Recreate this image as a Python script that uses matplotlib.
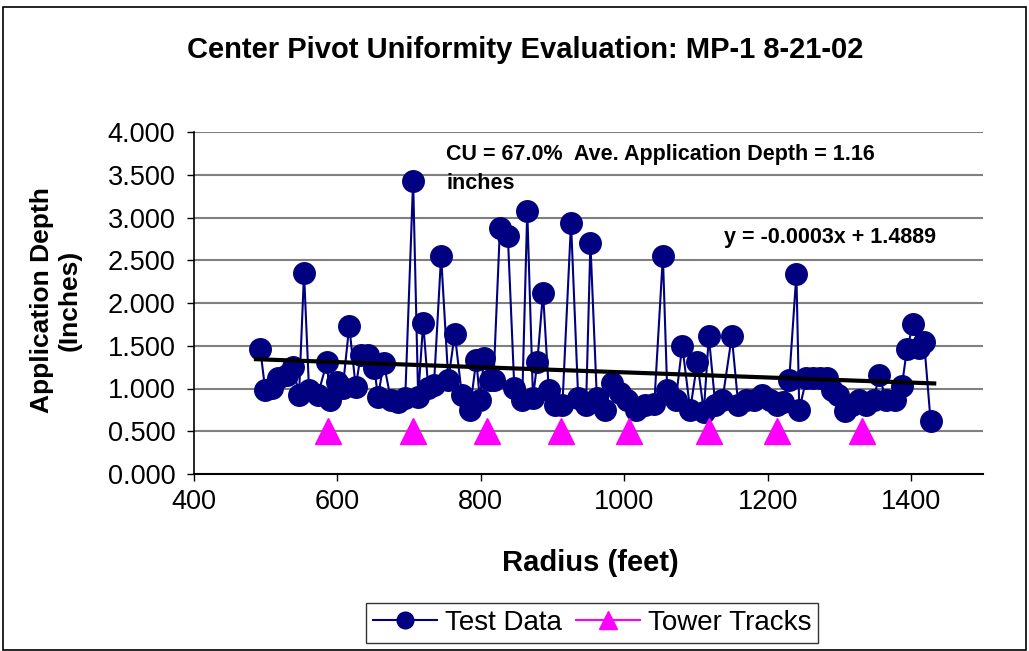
import matplotlib
matplotlib.use("Agg")
import matplotlib.pyplot as plt
from matplotlib.lines import Line2D
from matplotlib.patches import Rectangle

plt.rcParams['font.family'] = ['Liberation Sans', 'DejaVu Sans']

radius = [493, 500, 509, 518, 530, 539, 547, 554, 561, 573, 586, 590, 600, 608,
          617, 626, 633, 643, 652, 657, 665, 675, 685, 695, 706, 713, 720, 727,
          735, 745, 755, 764, 774, 785, 794, 799, 805, 813, 818, 827, 838, 847,
          858, 865, 873, 879, 887, 895, 904, 914, 926, 936, 947, 953, 962, 973,
          983, 994, 1004, 1017, 1029, 1042, 1054, 1060, 1072, 1081, 1092, 1102,
          1111, 1118, 1127, 1137, 1150, 1159, 1170, 1181, 1192, 1203, 1213, 1222,
          1230, 1240, 1244, 1254, 1263, 1273, 1282, 1290, 1298, 1308, 1318, 1327,
          1337, 1348, 1355, 1365, 1378, 1387, 1394, 1403, 1411, 1418, 1427]
depth = [1.46, 0.98, 1.01, 1.12, 1.16, 1.25, 0.92, 2.35, 0.98, 0.92, 1.31, 0.87, 1.08, 1.01,
         1.73, 1.02, 1.39, 1.39, 1.24, 0.90, 1.30, 0.87, 0.84, 0.89, 3.43, 0.90, 1.77, 1.01,
         1.04, 2.55, 1.10, 1.64, 0.92, 0.75, 1.33, 0.87, 1.36, 1.10, 1.10, 2.88, 2.78, 1.01,
         0.87, 3.08, 0.89, 1.31, 2.12, 0.98, 0.81, 0.81, 2.94, 0.89, 0.81, 2.70, 0.89, 0.75,
         1.06, 0.95, 0.87, 0.75, 0.81, 0.82, 2.55, 0.98, 0.87, 1.50, 0.75, 1.31,
         0.73, 1.61, 0.81, 0.87, 1.61, 0.81, 0.87, 0.87, 0.92, 0.87, 0.81, 0.84,
         1.10, 2.34, 0.75, 1.12, 1.12, 1.12, 1.12, 0.98, 0.92, 0.74, 0.81, 0.87,
         0.81, 0.87, 1.16, 0.87, 0.87, 1.03, 1.46, 1.76, 1.47, 1.54, 0.62]

tower_radius = [588, 706, 809, 912, 1007, 1118, 1213, 1332]
tower_depth = [0.5, 0.5, 0.5, 0.5, 0.5, 0.5, 0.5, 0.5]

trend_slope = -0.0003
trend_intercept = 1.4889
trend_range = [487, 1432]

title = "Center Pivot Uniformity Evaluation: MP-1 8-21-02"
xlabel = "Radius (feet)"
ylabel = "Application Depth\n(Inches)"
cu_text = "CU = 67.0%  Ave. Application Depth = 1.16\ninches"
eq_text = "y = -0.0003x + 1.4889"
yticks = [0, 0.5, 1.0, 1.5, 2.0, 2.5, 3.0, 3.5, 4.0]
xticks = [400, 600, 800, 1000, 1200, 1400]

W, H = 1029, 651
fig = plt.figure(figsize=(W / 100, H / 100), dpi=100)
fig.patch.set_facecolor('white')
fig.add_artist(Rectangle((3 / W, 1 / H), (W - 6) / W, (H - 8) / H, transform=fig.transFigure,
                         fill=False, edgecolor='black', linewidth=1.2))

left, right, top, bottom = 193.5, 983, 132, 474
ax = fig.add_axes([left / W, 1 - bottom / H, (right - left) / W, (bottom - top) / H])
ax.set_xlim(400, 1500)
ax.set_ylim(0, 4)

for yv in yticks[1:]:
    ax.axhline(yv, color='#808080', linewidth=1.5, zorder=0)

navy = '#000080'
ax.plot(radius, depth, color=navy, linewidth=1.5, marker='o', markersize=15.5,
        markerfacecolor=navy, markeredgecolor=navy, zorder=3)
ax.plot(tower_radius, tower_depth, linestyle='none', marker='^', markersize=19,
        color='#FF00FF', markeredgecolor='#FF00FF', zorder=4)
tx = trend_range
ty = [trend_slope * v + trend_intercept for v in tx]
ax.plot(tx, ty, color='black', linewidth=3, zorder=5)

ax.set_xticks(xticks)
ax.set_yticks(yticks)
ax.set_yticklabels([f"{v:.3f}" for v in yticks])
ax.tick_params(axis='both', labelsize=19.5, direction='out', length=5, width=1, color='black')
ax.tick_params(axis='y', pad=8)
ax.tick_params(axis='x', pad=6)
for s in ['top', 'right']:
    ax.spines[s].set_visible(False)
ax.spines['left'].set_color('black')
ax.spines['bottom'].set_color('black')
ax.spines['left'].set_linewidth(1.2)
ax.spines['bottom'].set_linewidth(1.5)

ax.text(752, 3.57, cu_text, fontsize=15.5, fontweight='bold', va='center', ha='left',
        linespacing=1.5, zorder=6)
ax.text(1139, 2.77, eq_text, fontsize=15.5, fontweight='bold', va='center', ha='left', zorder=6)

fig.text(525 / W, 1 - 50 / H, title, fontsize=21, fontweight='bold', ha='center', va='center')
fig.text(590 / W, 1 - 563 / H, xlabel, fontsize=21, fontweight='bold', ha='center', va='center')
fig.text(56 / W, 1 - 300 / H, ylabel, fontsize=19, fontweight='bold', ha='center', va='center',
         rotation=90, linespacing=1.2)

handles = [Line2D([], [], color=navy, linewidth=1.5, marker='o', markersize=12,
                  markerfacecolor=navy, markeredgecolor=navy),
           Line2D([], [], color='#FF00FF', linewidth=1.5, marker='^', markersize=13,
                  markerfacecolor='#FF00FF', markeredgecolor='#FF00FF')]
leg = fig.legend(handles, ['Test Data', 'Tower Tracks'], loc='center',
                 bbox_to_anchor=(592 / W, 1 - 623 / H), ncol=2, fontsize=20,
                 frameon=True, fancybox=False, edgecolor='black', handlelength=2.3,
                 handletextpad=0.3, columnspacing=0.5, borderpad=0.25, borderaxespad=0)
leg.get_frame().set_linewidth(1.0)

fig.savefig('out.png', dpi=100)
